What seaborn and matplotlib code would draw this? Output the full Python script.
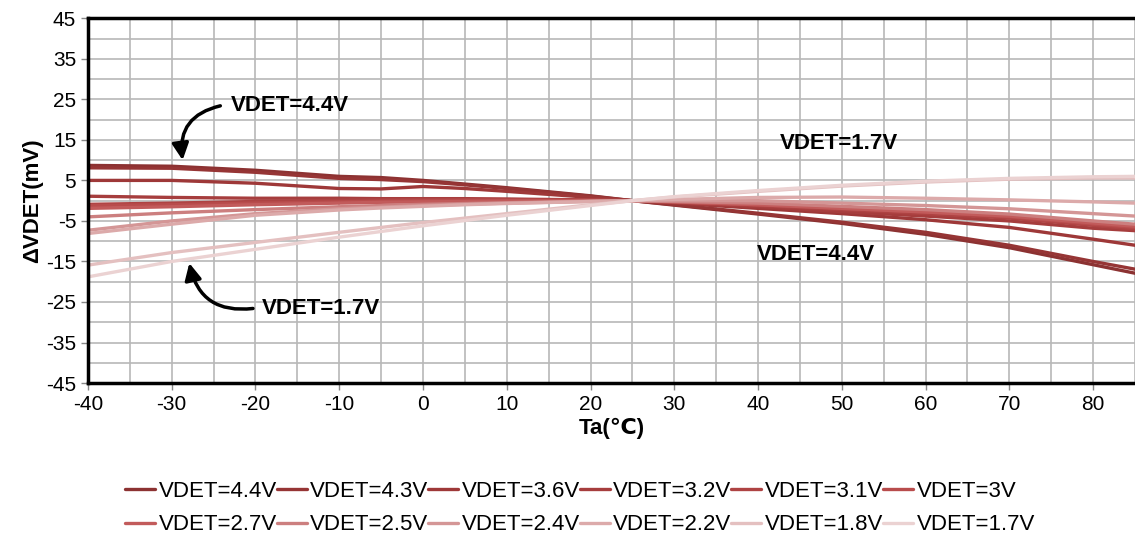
import numpy as np
import pandas as pd
import matplotlib
matplotlib.use('Agg')
import matplotlib.pyplot as plt
import seaborn as sns

# temperatures (deg C) where the curves are read
temps = [-40, -30, -20, -10, -5, 0, 5, 10, 20, 25, 30, 40, 50, 60, 70, 80, 85]

# delta VDET (mV) for each detector voltage
v44 = [8.7, 8.5, 7.5, 6.0, 5.7, 5.0, 4.1, 3.2, 1.2, 0, -1.1, -3.3, -5.6, -8.3, -11.6, -15.8, -17.9]
v43 = [8.1, 8.0, 7.0, 5.5, 5.2, 4.7, 3.9, 3.0, 1.1, 0, -1.0, -3.1, -5.3, -7.8, -11.0, -15.0, -16.9]
v36 = [5.0, 5.0, 4.3, 3.0, 2.9, 3.5, 3.0, 2.3, 0.8, 0, -0.6, -1.9, -3.2, -4.7, -6.6, -9.5, -11.0]
v32 = [1.1, 0.8, 0.6, 0.6, 0.5, 0.5, 0.5, 0.4, 0.2, 0, -0.5, -1.5, -2.7, -3.8, -5.0, -6.8, -7.4]
v31 = [-0.9, -0.6, -0.2, 0.1, 0.2, 0.3, 0.3, 0.3, 0.1, 0, -0.4, -1.2, -2.2, -3.2, -4.3, -6.1, -7.0]
v30 = [-1.2, -1.0, -0.6, -0.3, -0.1, 0.0, 0.1, 0.1, 0.1, 0, -0.3, -1.0, -1.9, -2.8, -4.0, -5.8, -6.6]
v27 = [-1.9, -1.5, -1.0, -0.6, -0.4, -0.3, -0.2, -0.1, 0.0, 0, -0.3, -1.0, -1.9, -2.8, -3.8, -5.5, -6.3]
v25 = [-4.0, -3.0, -2.2, -1.5, -1.2, -0.9, -0.7, -0.5, -0.1, 0, -0.2, -0.6, -1.4, -2.2, -3.3, -5.0, -5.8]
v24 = [-7.3, -5.0, -3.2, -2.0, -1.6, -1.2, -0.9, -0.6, -0.2, 0, 0.0, 0.0, -0.6, -1.2, -2.0, -3.2, -3.8]
v22 = [-8.1, -5.8, -3.6, -2.3, -1.8, -1.4, -1.0, -0.7, -0.2, 0, 0.3, 0.8, 0.9, 0.6, 0.2, -0.3, -0.6]
v18 = [-15.9, -12.8, -10.3, -7.8, -6.6, -5.4, -4.3, -3.2, -1.0, 0, 0.9, 2.3, 3.6, 4.6, 5.3, 5.6, 5.6]
v17 = [-18.8, -15.0, -12.0, -9.0, -7.6, -6.2, -4.9, -3.6, -1.2, 0, 1.0, 2.5, 3.8, 4.8, 5.5, 5.9, 6.0]

labels = ['VDET=4.4V', 'VDET=4.3V', 'VDET=3.6V', 'VDET=3.2V', 'VDET=3.1V', 'VDET=3V',
          'VDET=2.7V', 'VDET=2.5V', 'VDET=2.4V', 'VDET=2.2V', 'VDET=1.8V', 'VDET=1.7V']
series = [v44, v43, v36, v32, v31, v30, v27, v25, v24, v22, v18, v17]
colors = ['#8c3232', '#963535', '#9e3838', '#a63d3d', '#ae4343', '#b84c4c',
          '#c25b5b', '#cc7f7f', '#d49696', '#dcaaaa', '#e4c0c0', '#ebd2d2']

rows = []
for lab, vals in zip(labels, series):
    for t, v in zip(temps, vals):
        rows.append({'Ta': t, 'dV': v, 'VDET': lab})
df = pd.DataFrame(rows)

sns.set_style('white')
plt.rcParams['font.family'] = ['Liberation Sans', 'DejaVu Sans']
plt.rcParams['axes.unicode_minus'] = False
plt.rcParams['text.color'] = 'black'
plt.rcParams['axes.labelcolor'] = 'black'
plt.rcParams['xtick.color'] = 'black'
plt.rcParams['ytick.color'] = 'black'

fig = plt.figure(figsize=(11.35, 5.38), dpi=100)
ax = fig.add_axes([0.0775, 0.288, 0.9225, 0.678])

sns.lineplot(data=df, x='Ta', y='dV', hue='VDET', hue_order=labels,
             palette=colors, linewidth=2.4, legend=False, ax=ax)

ax.set_xlim(-40, 85)
ax.set_ylim(-45, 45)
ax.set_xticks(np.arange(-40, 81, 10))
ax.set_yticks(np.arange(-45, 46, 10))
ax.set_xticks(np.arange(-40, 86, 5), minor=True)
ax.set_yticks(np.arange(-45, 46, 5), minor=True)
ax.grid(True, which='both', color='#b8b8b8', linewidth=1.2)
ax.set_axisbelow(True)
ax.tick_params(axis='both', which='major', labelsize=15, length=5, width=1,
               direction='out', color='#888888', labelcolor='black',
               bottom=True, left=True)
ax.tick_params(which='minor', length=0)

for side in ['top', 'left', 'bottom']:
    ax.spines[side].set_visible(True)
    ax.spines[side].set_color('black')
    ax.spines[side].set_linewidth(2.5)
ax.spines['right'].set_visible(False)

ax.set_xlabel('Ta(℃)', fontsize=16, fontweight='bold', labelpad=3)
ax.set_ylabel('ΔVDET(mV)', fontsize=16, fontweight='bold', labelpad=2)

# annotations
bold = dict(fontsize=16, fontweight='bold', va='center', ha='left', color='black')
ax.text(-22.9, 23.5, 'VDET=4.4V', **bold)
ax.text(42.6, 14.2, 'VDET=1.7V', **bold)
ax.text(39.8, -13.4, 'VDET=4.4V', **bold)
ax.text(-19.3, -26.5, 'VDET=1.7V', **bold)

arrow = dict(arrowstyle='-|>,head_length=1.0,head_width=0.5', color='black',
             lw=2.5, shrinkA=0, shrinkB=0)
ax.annotate('', xy=(-28.7, 10.0), xytext=(-24.2, 23.4),
            arrowprops=dict(connectionstyle='arc3,rad=0.45', **arrow))
ax.annotate('', xy=(-27.9, -15.4), xytext=(-20.3, -26.6),
            arrowprops=dict(connectionstyle='arc3,rad=-0.45', **arrow))

# legend in two rows, filled row by row
handles = [plt.Line2D([], [], color=c, linewidth=2.4) for c in colors]
order = []
for i in range(6):
    order += [i, i + 6]
fig.legend([handles[i] for i in order], [labels[i] for i in order],
           ncol=6, loc='lower center', bbox_to_anchor=(0.511, -0.024),
           frameon=False, fontsize=16, handlelength=1.35, handletextpad=0.15,
           columnspacing=0.0, labelspacing=0.55, borderaxespad=0.3)

fig.savefig('out.png', dpi=100)
